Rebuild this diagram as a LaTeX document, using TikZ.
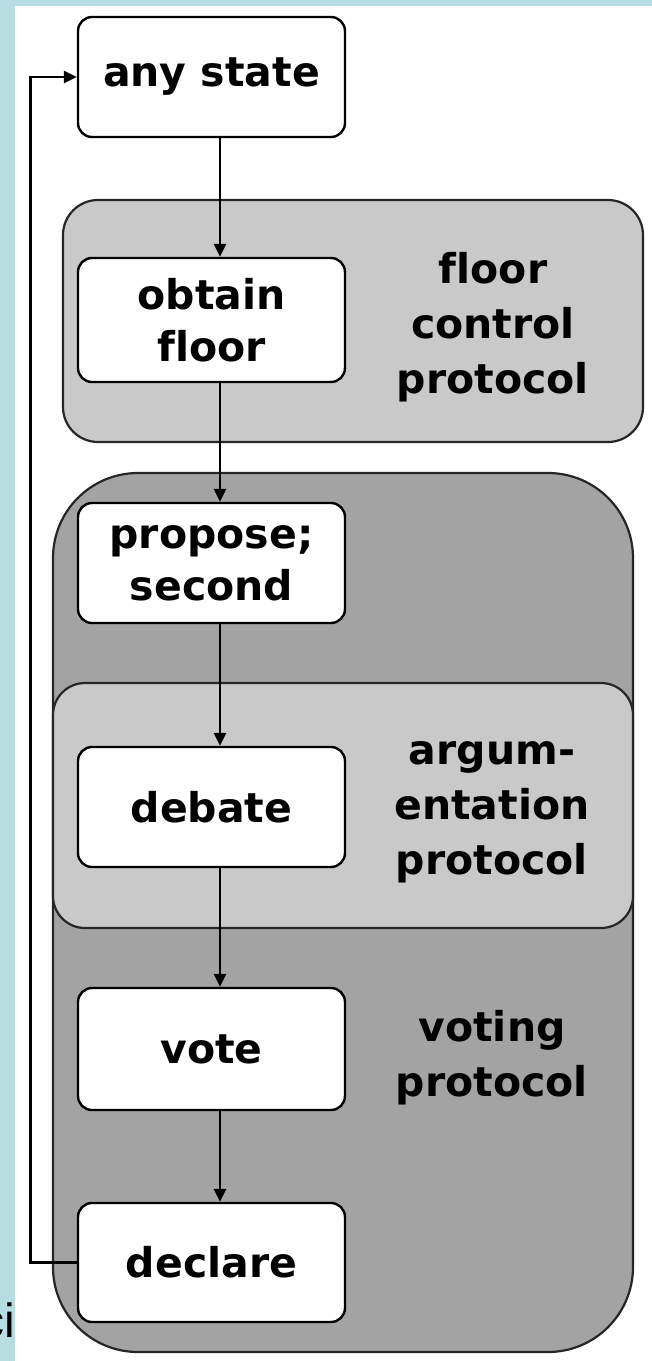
\documentclass[tikz,border=0pt]{standalone}
\usepackage{fontspec}
\setmainfont{DejaVu Sans}[Ligatures=NoCommon]
\newfontfamily\cifont{Liberation Sans}
\usepackage{xcolor}
\usepackage{tikz}
\usetikzlibrary{arrows.meta, positioning}

\definecolor{slideblue}{RGB}{182,221,226}
\definecolor{lightpanel}{RGB}{201,201,201}
\definecolor{darkpanel}{RGB}{163,163,163}

\begin{document}
\begin{tikzpicture}[
    x=1pt, y=-1pt,
    statebox/.style={rectangle, rounded corners=14pt, draw=black, line width=2.4pt, fill=white, minimum width=267pt, minimum height=120pt, inner sep=0pt, align=center, font=\fontsize{41}{52}\selectfont\bfseries},
    panel/.style={rectangle, draw=black!85, line width=2.2pt, inner sep=0pt, minimum width=580pt},
    panellabel/.style={align=center, inner sep=0pt, font=\fontsize{41}{55}\selectfont\bfseries},
    flow/.style={-{Triangle[length=13pt, width=12pt]}, line width=2.8pt}
]
\useasboundingbox (0,0) rectangle (652,1361);

% slide background
\fill[slideblue] (0,0) rectangle (652,1361);
\node[anchor=base east, inner sep=0pt, font=\cifont\fontsize{48}{48}\selectfont] (cut) at (15.5,1337) {ci};
\fill[white] (15,6) rectangle (652,1361);

% Panels
\node[panel, rounded corners=35pt, fill=lightpanel, minimum height=242pt] (floorp) at (353,321) {};
\node[panel, rounded corners=85pt, fill=darkpanel, minimum height=879pt] (motionp) at (343,912.5) {};
\node[panel, rounded corners=32pt, fill=lightpanel, minimum height=245pt] (argp) at (343,805.5) {};

\node[panellabel] (floorlbl) at (493,327) {floor\\control\\protocol};
\node[panellabel] (arglbl) at (492,812) {argum-\\entation\\protocol};
\node[panellabel] (votelbl) at (492,1058) {voting\\protocol};

% States
\node[statebox] (anys) at (211.5,77) {any state};
\node[statebox, minimum height=124pt] (obtain) at (211.5,320) {obtain\\floor};
\node[statebox] (propose) at (211.5,563) {propose;\\second};
\node[statebox] (debate) at (211.5,807) {debate};
\node[statebox, minimum height=122pt] (vote) at (211.5,1049) {vote};
\node[statebox, minimum height=119pt] (declare) at (211.5,1262.5) {declare};

% Transitions
\draw[flow] ([xshift=8.5pt]anys.south) -- ([xshift=8.5pt]obtain.north);
\draw[flow] ([xshift=8.5pt]obtain.south) -- ([xshift=8.5pt]propose.north);
\draw[flow] ([xshift=8.5pt]propose.south) -- ([xshift=8.5pt]debate.north);
\draw[flow] ([xshift=8.5pt]debate.south) -- ([xshift=8.5pt]vote.north);
\draw[flow] ([xshift=8.5pt]vote.south) -- ([xshift=8.5pt]declare.north);
\draw[flow] (declare.west) -- ++(-46,0) |- (anys.west);

\end{tikzpicture}
\end{document}
